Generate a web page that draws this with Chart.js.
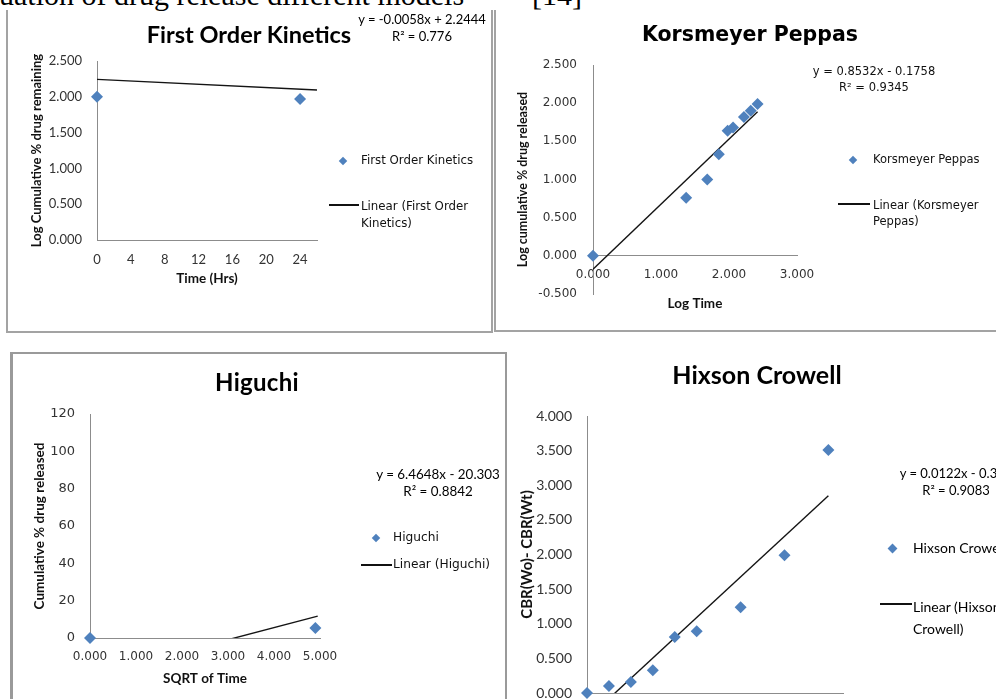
<!DOCTYPE html>
<html><head><meta charset="utf-8">
<script src="https://cdn.jsdelivr.net/npm/chart.js@4.4.1/dist/chart.umd.min.js"></script>
<style>
html,body{margin:0;padding:0;width:996px;height:699px;overflow:hidden;background:#fff;}
.cv{position:absolute;left:0;top:0;}
.t{position:absolute;white-space:nowrap;color:#000;line-height:1;}
.panel{position:absolute;border:0 solid #a3a3a3;box-sizing:border-box;}
.dia{position:absolute;background:#4F81BD;transform:rotate(45deg);}
.ln{position:absolute;height:1.5px;background:#111;}
.eq{font-family:Lato,sans-serif;font-size:13px;text-align:center;}
.lg{font-family:'DejaVu Sans',sans-serif;font-size:11.5px;color:#111;}
.ttl{font-family:Lato,sans-serif;font-weight:bold;transform:translate(-50%,-50%);}
</style></head><body>

<div class="t" style="left:-56px;top:-20px;font-family:'Liberation Serif',serif;font-size:30px;">Evaluation of drug release different models</div>
<div class="t" style="left:532px;top:-20px;font-family:'Liberation Serif',serif;font-size:30px;">[14]</div>

<div class="panel" style="left:6px;top:10px;width:487px;height:323px;border-left-width:2px;border-right-width:2px;border-bottom-width:2px;"></div>
<div class="panel" style="left:494px;top:10px;width:510px;height:322px;border-left-width:2px;border-bottom-width:2px;"></div>
<div class="panel" style="left:10px;top:352px;width:497px;height:360px;border-left-width:3px;border-right-width:2px;border-top-width:2px;border-color:#9a9a9a;"></div>

<canvas id="c1" class="cv" width="996" height="699"></canvas>
<canvas id="c2" class="cv" width="996" height="699"></canvas>
<canvas id="c3" class="cv" width="996" height="699"></canvas>
<canvas id="c4" class="cv" width="996" height="780"></canvas>

<!-- Chart 1 texts -->
<div class="t ttl" style="left:249px;top:35px;font-size:23.5px;">First Order Kinetics</div>
<div class="t eq" style="left:356px;top:13px;width:132px;">y = -0.0058x + 2.2444<br><span style="display:inline-block;margin-top:4px">R² = 0.776</span></div>
<div class="dia" style="left:340px;top:158px;width:6px;height:6px;"></div>
<div class="t lg" style="left:361px;top:155px;font-size:11.8px;">First Order Kinetics</div>
<div class="ln" style="left:329px;top:204px;width:30px;"></div>
<div class="t lg" style="left:361px;top:198px;font-size:11.8px;line-height:17px;">Linear (First Order<br>Kinetics)</div>

<!-- Chart 2 texts -->
<div class="t ttl" style="left:750px;top:34px;font-size:20.5px;font-family:'DejaVu Sans',sans-serif;">Korsmeyer Peppas</div>
<div class="t lg" style="left:806px;top:63px;width:136px;text-align:center;line-height:16px;">y = 0.8532x - 0.1758<br>R² = 0.9345</div>
<div class="dia" style="left:850px;top:157px;width:6px;height:6px;"></div>
<div class="t lg" style="left:873px;top:154px;">Korsmeyer Peppas</div>
<div class="ln" style="left:838px;top:203px;width:32px;"></div>
<div class="t lg" style="left:873px;top:197px;line-height:16px;">Linear (Korsmeyer<br>Peppas)</div>

<!-- Chart 3 texts -->
<div class="t ttl" style="left:257px;top:382px;font-size:24px;letter-spacing:0.3px;">Higuchi</div>
<div class="t eq" style="left:372px;top:466px;width:132px;font-size:13.4px;line-height:17px;">y = 6.4648x - 20.303<br>R² = 0.8842</div>
<div class="dia" style="left:373px;top:535px;width:6px;height:6px;"></div>
<div class="t lg" style="left:393px;top:531px;font-size:12.2px;">Higuchi</div>
<div class="ln" style="left:361px;top:564px;width:31px;"></div>
<div class="t lg" style="left:393px;top:558px;font-size:12.2px;">Linear (Higuchi)</div>

<!-- Chart 4 texts -->
<div class="t ttl" style="left:757px;top:374px;font-size:25px;">Hixson Crowell</div>
<div class="t eq" style="left:896px;top:465px;width:120px;font-size:13px;line-height:17px;">y = 0.0122x - 0.374<br>R² = 0.9083</div>
<div class="dia" style="left:889px;top:545px;width:7px;height:7px;"></div>
<div class="t" style="left:913px;top:541px;font-family:Lato,sans-serif;font-size:14px;">Hixson Crowell</div>
<div class="ln" style="left:880px;top:603px;width:32px;"></div>
<div class="t" style="left:913px;top:596px;font-family:Lato,sans-serif;font-size:14px;line-height:22px;">Linear (Hixson<br>Crowell)</div>

<script>
// ---------- data ----------
// First Order Kinetics
const foTime = [0, 24];
const foLogRemaining = [2.000, 1.970];
const foTrendX = [0, 26];
const foTrendY = [2.244, 2.094];
// Korsmeyer Peppas
const kpLogTime = [0, 1.37, 1.68, 1.85, 1.98, 2.06, 2.22, 2.32, 2.42];
const kpLogReleased = [0, 0.76, 1.00, 1.33, 1.64, 1.68, 1.82, 1.90, 1.99];
const kpTrendX = [0, 2.42];
const kpTrendY = [-0.176, 1.889];
// Higuchi
const hgSqrtTime = [0, 4.9];
const hgReleased = [0, 5.4];
const hgTrendX = [0, 4.95];
const hgTrendY = [-20.3, 11.7];
// Hixson Crowell
const hcTime = [0, 24, 48, 72, 96, 120, 168, 216, 264];
const hcCbrDiff = [0, 0.10, 0.16, 0.33, 0.81, 0.89, 1.24, 1.99, 3.51];
const hcTrendX = [0, 264];
const hcTrendY = [-0.374, 2.847];

// ---------- helpers ----------
const BLUE = '#4F81BD';
const pts = (xs, ys) => xs.map((x, i) => ({x, y: ys[i]}));
function axis(o) {
  return {
    type: 'linear', min: o.min, max: o.max, position: o.position,
    grid: {display: false, drawTicks: false},
    border: {display: true, color: '#8c8c8c', width: 1},
    ticks: {stepSize: o.step, includeBounds: false, padding: o.pad, color: '#333',
      font: o.tickFont, autoSkip: false, maxRotation: 0, callback: o.fmt},
    title: {display: true, text: o.title, color: '#111', font: o.titleFont, padding: {top: 0, bottom: 0}},
    afterFit: s => { if (s.isHorizontal()) s.height = o.size; else s.width = o.size; }
  };
}
function scatterCfg(o) {
  return {
    type: 'scatter',
    data: {datasets: [
      {data: o.trend, showLine: true, borderColor: '#141414', borderWidth: 1.4, pointRadius: 0, order: 2},
      {data: o.points, pointStyle: 'rectRot', pointRadius: 6, pointHoverRadius: 6, clip: false,
        backgroundColor: BLUE, borderColor: BLUE, borderWidth: 0, order: 1}
    ]},
    options: {
      responsive: false, animation: false, events: [],
      layout: {padding: o.padding},
      plugins: {legend: {display: false}, tooltip: {enabled: false}, title: {display: false}},
      scales: {x: o.x, y: o.y}
    }
  };
}
const f3 = v => v.toFixed(3);
const f0 = v => String(v);

// ---------- Chart 1: First Order Kinetics ----------
new Chart(document.getElementById('c1'), scatterCfg({
  points: pts(foTime, foLogRemaining), trend: pts(foTrendX, foTrendY),
  padding: {left: 29, top: 61, right: 679, bottom: 412},
  x: axis({min: 0, max: 26, step: 4, pad: 12, fmt: f0, size: 47, position: 'bottom',
    tickFont: {family: 'Lato', size: 13}, title: 'Time (Hrs)', titleFont: {family: 'Lato', size: 13.5, weight: 'bold'}}),
  y: axis({min: 0, max: 2.5, step: 0.5, pad: 15, fmt: f3, size: 68, position: 'left',
    tickFont: {family: 'Lato', size: 13}, title: 'Log Cumulative % drug remaining', titleFont: {family: 'Lato', size: 13, weight: 'bold'}})
}));

// ---------- Chart 2: Korsmeyer Peppas ----------
new Chart(document.getElementById('c2'), scatterCfg({
  points: pts(kpLogTime, kpLogReleased), trend: pts(kpTrendX, kpTrendY),
  padding: {left: 515, top: 65, right: 199, bottom: 405},
  x: axis({min: 0, max: 3, step: 1, pad: 12, fmt: f3, size: 56, position: {y: 0},
    tickFont: {family: 'DejaVu Sans', size: 12}, title: 'Log Time', titleFont: {family: 'Lato', size: 13.5, weight: 'bold'}}),
  y: axis({min: -0.5, max: 2.5, step: 0.5, pad: 16, fmt: f3, size: 78, position: 'left',
    tickFont: {family: 'DejaVu Sans', size: 12}, title: 'Log cumulative % drug released', titleFont: {family: 'Lato', size: 12.5, weight: 'bold'}})
}));

// ---------- Chart 3: Higuchi ----------
new Chart(document.getElementById('c3'), scatterCfg({
  points: pts(hgSqrtTime, hgReleased), trend: pts(hgTrendX, hgTrendY),
  padding: {left: 32, top: 414, right: 676, bottom: 12},
  x: axis({min: 0, max: 5, step: 1, pad: 12, fmt: f3, size: 49, position: 'bottom',
    tickFont: {family: 'DejaVu Sans', size: 12}, title: 'SQRT of Time', titleFont: {family: 'Lato', size: 13.5, weight: 'bold'}}),
  y: axis({min: 0, max: 120, step: 20, pad: 15, fmt: f0, size: 58, position: 'left',
    tickFont: {family: 'DejaVu Sans', size: 13}, title: 'Cumulative % drug released', titleFont: {family: 'Lato', size: 13.5, weight: 'bold'}})
}));

// ---------- Chart 4: Hixson Crowell ----------
new Chart(document.getElementById('c4'), scatterCfg({
  points: pts(hcTime, hcCbrDiff), trend: pts(hcTrendX, hcTrendY),
  padding: {left: 518, top: 416, right: 153, bottom: 37},
  x: axis({min: 0, max: 280, step: 40, pad: 12, fmt: f0, size: 50, position: 'bottom',
    tickFont: {family: 'Lato', size: 14}, title: 'Time', titleFont: {family: 'Lato', size: 13, weight: 'bold'}}),
  y: axis({min: 0, max: 4, step: 0.5, pad: 15, fmt: f3, size: 69, position: 'left',
    tickFont: {family: 'Lato', size: 14}, title: 'CBR(Wo)- CBR(Wt)', titleFont: {family: 'Lato', size: 15, weight: 'bold'}})
}));
</script>
</body></html>
